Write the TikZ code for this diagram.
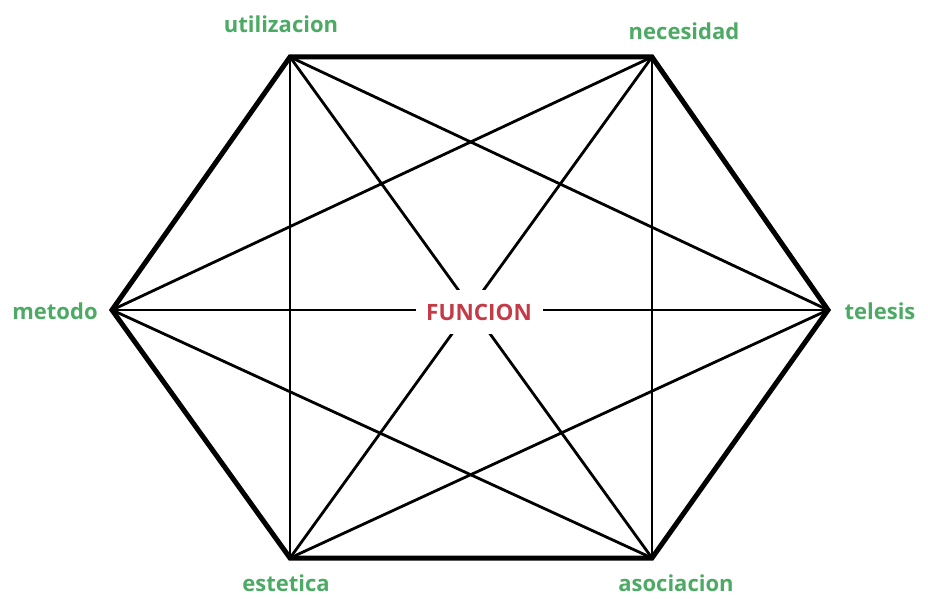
\documentclass[tikz,border=0pt]{standalone}
\usepackage{fontspec}
\setmainfont{Open Sans}
\definecolor{labelgreen}{RGB}{76,170,100}
\definecolor{centerred}{RGB}{196,58,70}
\tikzset{
    vlabel/.style={text=labelgreen, font=\fontsize{22}{26}\selectfont\bfseries, inner sep=0pt},
    edge/.style={line width=5pt, line join=miter},
    diag/.style={line width=2.8pt},
}
\begin{document}
\begin{tikzpicture}[x=1pt, y=-1pt]
    \useasboundingbox (0,0) rectangle (928,599);

    % Vertices of the hexagon
    \coordinate (util) at (290, 57);
    \coordinate (nec) at (652, 57);
    \coordinate (tel) at (828, 310);
    \coordinate (asoc) at (652, 558);
    \coordinate (est) at (290, 558);
    \coordinate (met) at (112, 310);

    % All diagonals between vertices
    \foreach \a/\b in {util/tel, util/asoc, util/est, nec/met, nec/est, nec/asoc,
                       met/tel, met/asoc, tel/est} {
        \draw[diag] (\a) -- (\b);
    }

    % Hexagon outline
    \draw[edge] (util) -- (nec) -- (tel) -- (asoc) -- (est) -- (met) -- cycle;

    % Centre label, covering the crossing
    \node[fill=white, minimum width=127pt, minimum height=44pt, inner sep=0pt,
          text=centerred, font=\fontsize{22.5}{26}\selectfont\bfseries] (func) at (479, 312) {FUNCION};

    % Vertex labels
    \node[vlabel] (lutil) at (281, 24) {utilizacion};
    \node[vlabel] (lnec) at (684, 31) {necesidad};
    \node[vlabel] (ltel) at (880, 311) {telesis};
    \node[vlabel] (lasoc) at (676, 583) {asociacion};
    \node[vlabel] (lest) at (286, 583) {estetica};
    \node[vlabel] (lmet) at (55, 311) {metodo};
\end{tikzpicture}
\end{document}
